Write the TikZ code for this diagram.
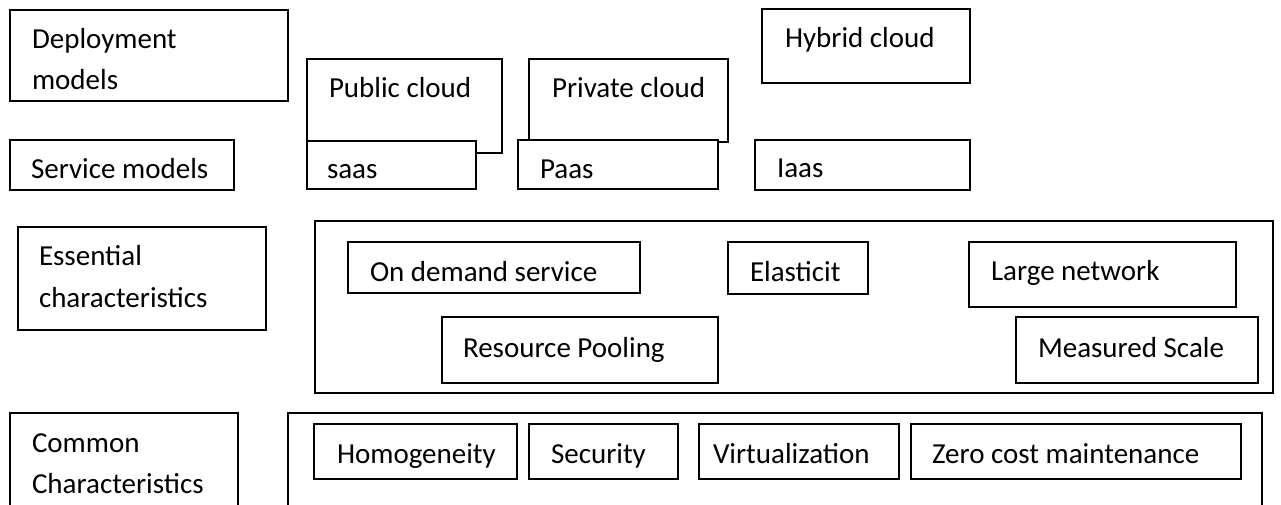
\documentclass[tikz,border=0pt]{standalone}
\usepackage{fontspec}
\setmainfont{Carlito}
\tikzset{
  box/.style={draw=black, line width=1.6pt, fill=white, inner sep=0pt, outer sep=0pt, anchor=north west},
  txt/.style={inner sep=0pt, outer sep=0pt, anchor=base west, font=\fontsize{29}{35}\selectfont},
}
% \boxat{name}{x1}{y1}{x2}{y2}: framed box from top-left to bottom-right corner
\newcommand\boxat[5]{\node[box, minimum width={#4-#2}, minimum height={#5-#3}] (#1) at (#2,#3) {};}
\begin{document}
\begin{tikzpicture}[x=1pt,y=-1pt]
\useasboundingbox (0,0) rectangle (1281,504);
\fill[white] (0,0) rectangle (1281,504);
\clip (0,0) rectangle (1281,504);

% row labels
\boxat{dep}{10}{10}{288}{101}
\node[txt] (dep1) at (32,48) {Deployment};
\node[txt] (dep2) at (32,89) {models};

\boxat{svc}{10}{140}{234}{190}
\node[txt] (svct) at (31,178) {Service models};

\boxat{ess}{18}{227}{266}{330}
\node[txt] (ess1) at (39,265) {Essential};
\node[txt] (ess2) at (39,307) {characteristics};

\boxat{com}{10}{413}{238}{530}
\node[txt] (com1) at (32,452) {Common};
\node[txt] (com2) at (32,493) {Characteristics};

% deployment models
\boxat{pub}{307}{59}{502}{153}
\node[txt] (pubt) at (329,97) {Public cloud};
\boxat{priv}{529}{59}{728}{142}
\node[txt] (privt) at (552,97) {Private cloud};
\boxat{hyb}{762}{9}{970}{83}
\node[txt] (hybt) at (785,47) {Hybrid cloud};

% service models
\boxat{saas}{307}{141}{476}{189}
\node[txt] (saast) at (327,178) {saas};
\boxat{paas}{518}{140}{718}{189}
\node[txt] (paast) at (540,178) {Paas};
\boxat{iaas}{755}{140}{970}{190}
\node[txt] (iaast) at (777,177) {Iaas};

% essential characteristics
\boxat{essg}{315}{221}{1273}{393}
\boxat{dem}{348}{242}{640}{293}
\node[txt] (demt) at (370,281) {On demand service};
\boxat{ela}{728}{242}{868}{294}
\node[txt] (elat) at (750,281) {Elasticit};
\boxat{net}{969}{242}{1236}{307}
\node[txt] (nett) at (991,280) {Large network};
\boxat{pool}{442}{317}{718}{383}
\node[txt] (poolt) at (463,357) {Resource Pooling};
\boxat{meas}{1016}{317}{1258}{383}
\node[txt] (meast) at (1038,357) {Measured Scale};

% common characteristics
\boxat{comg}{288}{413}{1262}{530}
\boxat{hom}{314}{424}{517}{479}
\node[txt] (homt) at (337,463) {Homogeneity};
\boxat{sec}{529}{424}{678}{479}
\node[txt] (sect) at (551,463) {Security};
\boxat{virt}{699}{424}{899}{479}
\node[txt] (virtt) at (713,463) {Virtualization};
\boxat{zero}{911}{424}{1241}{479}
\node[txt] (zerot) at (932,463) {Zero cost maintenance};
\end{tikzpicture}
\end{document}
